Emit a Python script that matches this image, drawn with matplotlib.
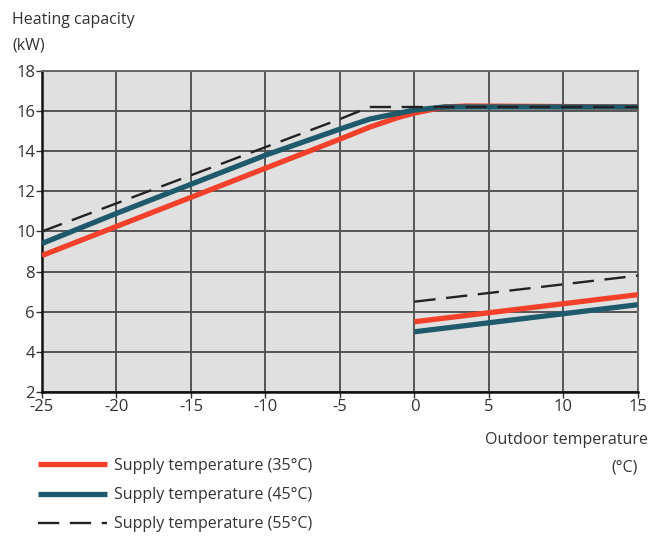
import matplotlib
matplotlib.use("Agg")
import matplotlib.pyplot as plt

plt.rcParams['font.family'] = ['Open Sans', 'DejaVu Sans']
plt.rcParams['axes.unicode_minus'] = False

# upper curves (heat pump + backup)
x_high = [-25, -20, -15, -10, -5, -3, -1, 0, 2, 3.5, 15]
red_high = [8.8, 10.25, 11.7, 13.15, 14.6, 15.2, 15.7, 15.9, 16.2, 16.25, 16.2]
blue_high = [9.4, 10.9, 12.35, 13.8, 15.1, 15.6, 15.9, 16.05, 16.2, 16.2, 16.2]
dash_high = [10.0, 11.4, 12.8, 14.2, 15.6, 16.2, 16.2, 16.2, 16.2, 16.2, 16.2]

# lower curves
x_low = [0, 15]
red_low = [5.5, 6.85]
blue_low = [5.0, 6.35]
dash_low = [6.5, 7.8]

labels = ['Supply temperature (35°C)', 'Supply temperature (45°C)', 'Supply temperature (55°C)']
xticks = [-25, -20, -15, -10, -5, 0, 5, 10, 15]
yticks = [2, 4, 6, 8, 10, 12, 14, 16, 18]

red = '#f2402a'
teal = '#1f5a6c'
txt = '#333333'

fig = plt.figure(figsize=(6.52, 5.37), dpi=100)
ax = fig.add_axes([0.0644, 0.270, 0.914, 0.598])
ax.set_facecolor('#e0e0e0')

l1, = ax.plot(x_high, red_high, color=red, lw=3.8, solid_capstyle='butt', zorder=3, label=labels[0])
ax.plot(x_low, red_low, color=red, lw=3.8, solid_capstyle='butt', zorder=3)
l2, = ax.plot(x_high, blue_high, color=teal, lw=3.8, solid_capstyle='butt', zorder=4, label=labels[1])
ax.plot(x_low, blue_low, color=teal, lw=3.8, solid_capstyle='butt', zorder=4)
l3, = ax.plot(x_high, dash_high, color='#222222', lw=1.7, dashes=(9, 4.5), zorder=5, label=labels[2])
ax.plot(x_low, dash_low, color='#222222', lw=1.7, dashes=(9, 4.5), zorder=5)

ax.set_xlim(-25, 15)
ax.set_ylim(2, 18)
ax.set_xticks(xticks)
ax.set_yticks(yticks)
ax.grid(True, color='#555555', lw=1.4)
ax.set_axisbelow(True)
ax.tick_params(labelsize=12, colors=txt, length=4, width=1, pad=1)
for s in ['top', 'right']:
    ax.spines[s].set_color('#666666')
    ax.spines[s].set_linewidth(1.4)
for s in ['left', 'bottom']:
    ax.spines[s].set_color('#111111')
    ax.spines[s].set_linewidth(1.8)

fig.text(12 / 652, 1 - 20 / 537, 'Heating capacity', fontsize=11.5, color=txt, va='center', ha='left')
fig.text(12 / 652, 1 - 46 / 537, '(kW)', fontsize=11.5, color=txt, va='center', ha='left')
fig.text(648 / 652, 1 - 440 / 537, 'Outdoor temperature', fontsize=11.5, color=txt, va='center', ha='right')
fig.text(638 / 652, 1 - 467 / 537, '(°C)', fontsize=11.5, color=txt, va='center', ha='right')

leg = fig.legend(handles=[l1, l2, l3], loc='upper left', bbox_to_anchor=(38 / 652, 1 - 458 / 537),
                 frameon=False, fontsize=11.5, handlelength=4.3, handletextpad=0.45, labelspacing=0.82,
                 borderaxespad=0, borderpad=0)
for t in leg.get_texts():
    t.set_color(txt)

fig.savefig('out.png', dpi=100)
